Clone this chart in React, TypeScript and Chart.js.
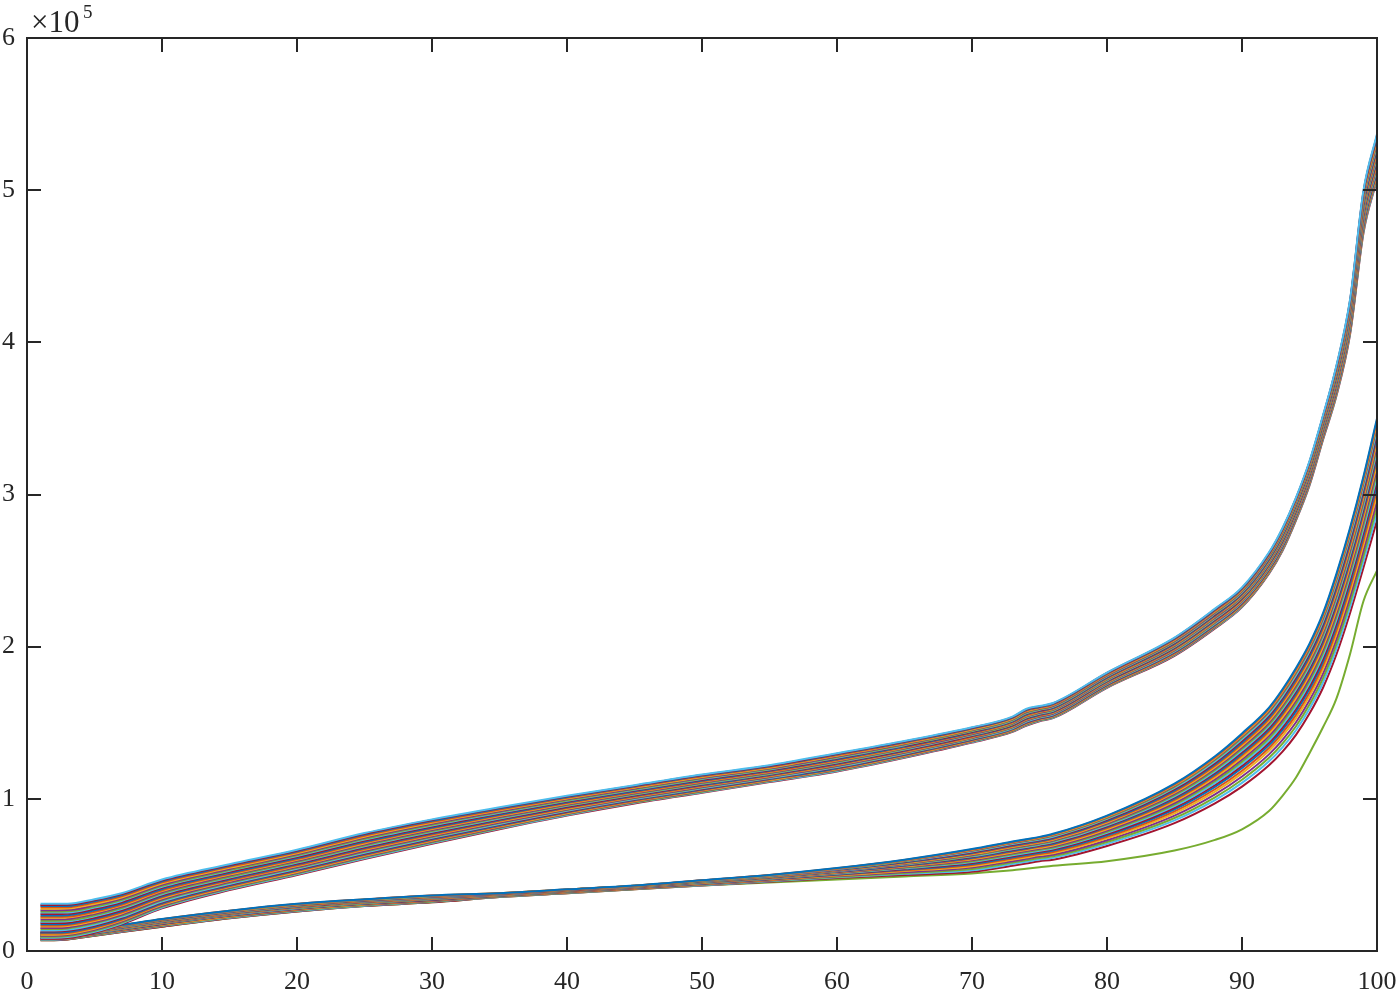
import React, { useEffect, useRef } from 'react';
import { Chart, registerables } from 'chart.js';

Chart.register(...registerables);

// x positions of sampled points
const XS = [1, 2, 3, 5, 7, 10, 15, 20, 25, 30, 35, 40, 45, 50, 55, 60, 65, 70, 73, 74, 75, 76, 80, 85, 88, 90, 92, 93, 94, 95, 96, 97, 98, 99, 100];

// values in units of 1e5
const UPPER_TOP = [0.31, 0.31, 0.31, 0.34, 0.38, 0.47, 0.57, 0.665, 0.775, 0.865, 0.945, 1.02, 1.09, 1.16, 1.22, 1.30, 1.38, 1.47, 1.54, 1.59, 1.61, 1.63, 1.83, 2.06, 2.25, 2.39, 2.62, 2.78, 2.98, 3.22, 3.52, 3.85, 4.28, 5.0, 5.37];
const UPPER_BOT = [0.08, 0.08, 0.085, 0.12, 0.175, 0.28, 0.40, 0.50, 0.605, 0.705, 0.80, 0.89, 0.97, 1.04, 1.11, 1.18, 1.27, 1.37, 1.44, 1.48, 1.51, 1.53, 1.73, 1.94, 2.12, 2.26, 2.48, 2.63, 2.83, 3.06, 3.36, 3.65, 4.05, 4.72, 5.07];

const LOWER_TOP = [0.12, 0.12, 0.125, 0.145, 0.17, 0.21, 0.265, 0.31, 0.34, 0.365, 0.38, 0.405, 0.43, 0.465, 0.50, 0.545, 0.60, 0.67, 0.72, 0.735, 0.75, 0.77, 0.89, 1.10, 1.28, 1.43, 1.60, 1.72, 1.86, 2.02, 2.22, 2.48, 2.78, 3.12, 3.50];
const LOWER_BOT = [0.07, 0.07, 0.075, 0.10, 0.125, 0.16, 0.215, 0.26, 0.295, 0.32, 0.355, 0.38, 0.405, 0.43, 0.455, 0.48, 0.50, 0.52, 0.56, 0.575, 0.59, 0.60, 0.69, 0.84, 0.97, 1.08, 1.22, 1.31, 1.42, 1.56, 1.73, 1.95, 2.22, 2.52, 2.83];
const LOWER_OUTLIER = [0.07, 0.07, 0.075, 0.10, 0.125, 0.16, 0.215, 0.26, 0.295, 0.32, 0.355, 0.38, 0.405, 0.43, 0.45, 0.47, 0.49, 0.51, 0.53, 0.54, 0.55, 0.56, 0.59, 0.66, 0.73, 0.80, 0.92, 1.02, 1.14, 1.30, 1.47, 1.66, 1.95, 2.30, 2.50];

// relative position of each run inside its bundle (1 = top, 0 = bottom)
const UPPER_POS = [1.0, 0.97, 0.94, 0.9, 0.86, 0.82, 0.78, 0.75, 0.71, 0.67, 0.63, 0.6, 0.56, 0.52, 0.49, 0.45, 0.42, 0.38, 0.35, 0.31, 0.28, 0.24, 0.21, 0.18, 0.15, 0.12, 0.09, 0.06, 0.03, 0.0];
const LOWER_POS = [1.0, 0.98, 0.96, 0.94, 0.92, 0.89, 0.86, 0.83, 0.8, 0.77, 0.74, 0.71, 0.68, 0.65, 0.62, 0.59, 0.55, 0.51, 0.47, 0.43, 0.39, 0.35, 0.3, 0.25, 0.19, 0.13, 0.07, 0.0];

const X_MIN = 0;
const X_MAX = 100;
const X_STEP = 10;
const Y_MIN = 0;
const Y_MAX = 6;
const Y_STEP = 1;
const Y_SCALE = 1e5;

const COLORS = ['#0072BD', '#D95319', '#EDB120', '#7E2F8E', '#77AC30', '#4DBEEE', '#A2142F'];
const INK = '#262626';

function bundle(top: number[], bot: number[], pos: number[], colorOffset: number) {
  return pos.map((p, i) => ({
    data: XS.map((x, k) => ({ x, y: (bot[k] + p * (top[k] - bot[k])) * Y_SCALE })),
    borderColor: COLORS[(i + colorOffset) % COLORS.length],
    borderWidth: 2,
    pointRadius: 0,
    cubicInterpolationMode: 'monotone',
    fill: false,
  }));
}

const framePlugin = {
  id: 'matlabFrame',
  afterDatasetsDraw(chart: any) {
    const { ctx, chartArea: a, scales } = chart;
    ctx.save();
    ctx.strokeStyle = INK;
    ctx.lineWidth = 2;
    ctx.strokeRect(a.left, a.top, a.right - a.left, a.bottom - a.top);
    const L = 14;
    ctx.beginPath();
    scales.x.ticks.forEach((t: any) => {
      const px = Math.round(scales.x.getPixelForValue(t.value));
      ctx.moveTo(px, a.bottom);
      ctx.lineTo(px, a.bottom - L);
      ctx.moveTo(px, a.top);
      ctx.lineTo(px, a.top + L);
    });
    scales.y.ticks.forEach((t: any) => {
      const py = Math.round(scales.y.getPixelForValue(t.value));
      ctx.moveTo(a.left, py);
      ctx.lineTo(a.left + L, py);
      ctx.moveTo(a.right, py);
      ctx.lineTo(a.right - L, py);
    });
    ctx.stroke();
    ctx.fillStyle = INK;
    ctx.textAlign = 'left';
    ctx.textBaseline = 'alphabetic';
    ctx.font = '31px "Liberation Serif"';
    ctx.fillText('×10', a.left + 4, 32);
    ctx.font = '19px "Liberation Serif"';
    ctx.fillText('5', a.left + 56, 18);
    ctx.restore();
  },
};

export default function App() {
  const ref = useRef<HTMLCanvasElement>(null);
  useEffect(() => {
    if (!ref.current) return;
    const datasets = [
      ...bundle(UPPER_TOP, UPPER_BOT, UPPER_POS, 5),
      ...bundle(LOWER_TOP, LOWER_BOT, LOWER_POS, 0),
      {
        data: XS.map((x, k) => ({ x, y: LOWER_OUTLIER[k] * Y_SCALE })),
        borderColor: '#77AC30',
        borderWidth: 2,
        pointRadius: 0,
        cubicInterpolationMode: 'monotone',
        fill: false,
      },
    ];
    const font = { family: '"Liberation Serif", "Times New Roman", serif', size: 26 };
    const chart = new Chart(ref.current, {
      type: 'line',
      data: { datasets: datasets as any },
      options: {
        animation: false,
        responsive: false,
        events: [],
        layout: { padding: { top: 38, right: 23, left: 0, bottom: 0 } },
        plugins: { legend: { display: false }, tooltip: { enabled: false } },
        scales: {
          x: {
            type: 'linear',
            min: X_MIN,
            max: X_MAX,
            grid: { display: false, drawTicks: false },
            border: { display: false },
            ticks: { stepSize: X_STEP, color: INK, font, padding: 16, maxRotation: 0 },
            afterFit: (s: any) => { s.height = 47; s.paddingLeft = 0; s.paddingRight = 0; },
          },
          y: {
            type: 'linear',
            min: Y_MIN * Y_SCALE,
            max: Y_MAX * Y_SCALE,
            grid: { display: false, drawTicks: false },
            border: { display: false },
            ticks: {
              stepSize: Y_STEP * Y_SCALE,
              color: INK,
              font,
              padding: 12,
              callback: (v: any) => String(Number(v) / Y_SCALE),
            },
            afterFit: (s: any) => { s.width = 27; s.paddingTop = 0; s.paddingBottom = 0; },
          },
        },
      },
      plugins: [framePlugin],
    });
    return () => chart.destroy();
  }, []);
  return (
    <div style={{ position: 'absolute', left: 0, top: 0, width: 1400, height: 998, background: '#fff' }}>
      <canvas ref={ref} width={1400} height={998} style={{ display: 'block' }} />
    </div>
  );
}
